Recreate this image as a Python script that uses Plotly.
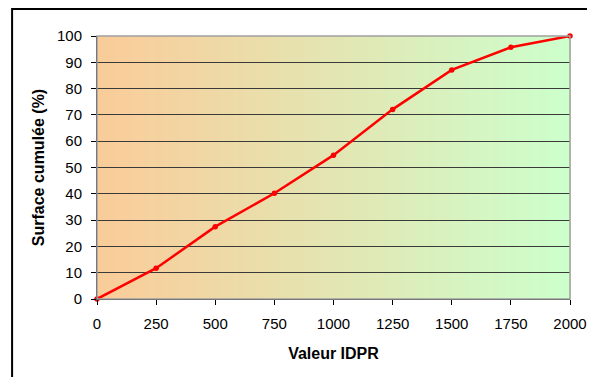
import plotly.graph_objects as go

idpr = [0, 250, 500, 750, 1000, 1250, 1500, 1750, 2000]
surface_cumulee = [0, 11.7, 27.5, 40.2, 54.7, 72.1, 87.1, 95.7, 100]
x_ticks = [0, 250, 500, 750, 1000, 1250, 1500, 1750, 2000]
y_ticks = list(range(0, 101, 10))

# page body has an 8px margin: lay out the figure so the final screen positions match
OFF = 8
W, H = 595 - OFF, 377 - OFF
L, T = 97 - OFF, 36 - OFF
R = W - (570.5 - OFF)
B = H - (299 - OFF)
pw, ph = W - L - R, H - T - B

fig = go.Figure()
fig.add_trace(go.Scatter(
    x=idpr, y=surface_cumulee, mode="lines+markers",
    line=dict(color="#FF0000", width=2.5),
    marker=dict(color="#FF0000", size=5.5),
    showlegend=False, cliponaxis=False,
))

# gradient background (orange -> light green)
c0 = (250, 204, 153)
c1 = (204, 255, 204)
n = 80
shapes = []
for i in range(n):
    t = i / (n - 1)
    col = tuple(round(c0[k] + (c1[k] - c0[k]) * t) for k in range(3))
    shapes.append(dict(type="rect", xref="x domain", yref="y domain",
                       x0=i / n, x1=(i + 1) / n + 0.002, y0=0, y1=1,
                       fillcolor="rgb(%d,%d,%d)" % col, line=dict(width=0),
                       layer="below"))
# plot area border (grey)
shapes.append(dict(type="rect", xref="x domain", yref="y domain",
                   x0=0, x1=1, y0=0, y1=1, line=dict(color="#A0A0A0", width=1.5),
                   fillcolor="rgba(0,0,0,0)", layer="above"))
# outer frame (left edge at x=12, top edge at y=9 on screen)
fx0 = 12 - OFF
fy0 = 9 - OFF
shapes.append(dict(type="rect", xref="paper", yref="paper",
                   x0=(fx0 - L) / pw, x1=(W + 40 - L) / pw,
                   y0=-(B + 40) / ph, y1=(T + ph - fy0) / ph,
                   line=dict(color="#000000", width=2),
                   fillcolor="rgba(0,0,0,0)", layer="above"))

font = "Liberation Sans, Arial, sans-serif"
fig.update_layout(
    width=W, height=H,
    margin=dict(l=L, r=R, t=T, b=B, autoexpand=False),
    paper_bgcolor="white", plot_bgcolor="white",
    font=dict(family=font, size=15, color="black"),
    shapes=shapes,
    xaxis=dict(range=[0, 2000], tickvals=x_ticks, ticktext=[str(v) for v in x_ticks],
               showgrid=False, zeroline=False, showline=True, linecolor="#000000", linewidth=1,
               ticks="outside", ticklen=5, tickcolor="#000000", ticklabelstandoff=6,
               title=dict(text="<b>Valeur IDPR</b>", font=dict(size=16), standoff=16),
               tickfont=dict(size=15), automargin=False),
    yaxis=dict(range=[0, 100], tickvals=y_ticks,
               showgrid=True, gridcolor="#3A3A3A", gridwidth=1, zeroline=False,
               showline=True, linecolor="#000000", linewidth=1,
               ticks="outside", ticklen=5, tickcolor="#000000", ticklabelstandoff=6,
               title=dict(text="<b>Surface cumulée (%)</b>", font=dict(size=16), standoff=8),
               tickfont=dict(size=15), automargin=False),
)

fig.write_html("out.html")
